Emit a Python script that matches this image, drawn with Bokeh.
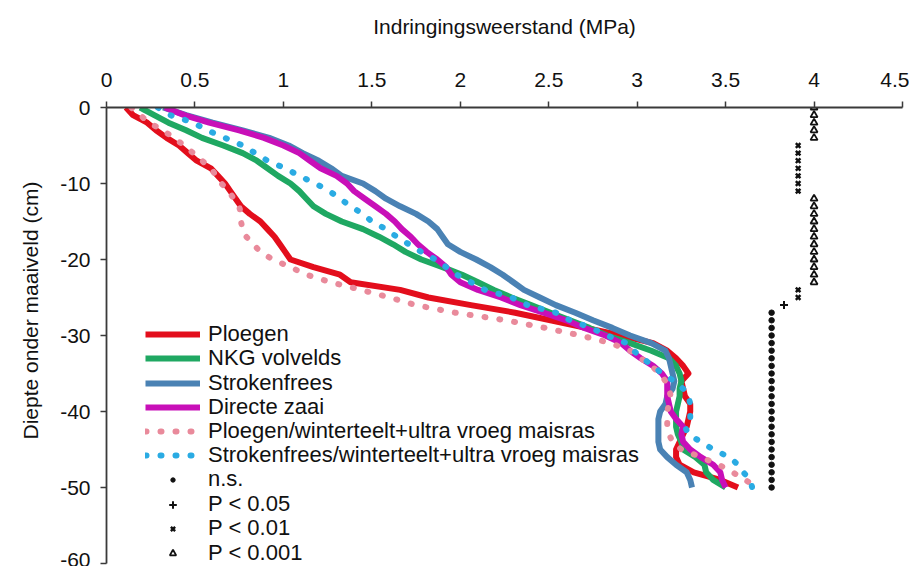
from bokeh.plotting import figure
from bokeh.models import (Range1d, FixedTicker, Legend, LegendItem, Title, ColumnDataSource)
from bokeh.embed import file_html
from bokeh.resources import INLINE

# ---------------- data ----------------
depth = [0, -1, -2, -3, -4, -5, -6, -7, -8, -9, -10, -11, -12, -13, -14, -15, -16, -17, -18, -19,
         -20, -21, -22, -23, -24, -25, -26, -27, -28, -29, -30, -31, -32, -33, -34, -35, -36, -37,
         -38, -39, -40, -41, -42, -43, -44, -45, -46, -47, -48, -49, -50]

ploegen = [0.11, 0.15, 0.23, 0.28, 0.34, 0.41, 0.46, 0.51, 0.59, 0.63, 0.67, 0.70, 0.73, 0.76,
           0.81, 0.87, 0.91, 0.95, 0.98, 1.01, 1.04, 1.17, 1.32, 1.38, 1.66, 1.82, 2.06, 2.31,
           2.51, 2.71, 2.91, 3.09, 3.17, 3.22, 3.26, 3.29, 3.25, 3.26, 3.27, 3.30, 3.30, 3.29,
           3.28, 3.26, 3.24, 3.22, 3.22, 3.24, 3.32, 3.47, 3.57]

nkg_volvelds = [0.19, 0.27, 0.35, 0.45, 0.54, 0.66, 0.77, 0.85, 0.91, 0.97, 1.04, 1.09, 1.13,
                1.17, 1.24, 1.33, 1.45, 1.54, 1.62, 1.69, 1.78, 1.90, 2.01, 2.10, 2.19, 2.29,
                2.40, 2.51, 2.62, 2.73, 2.83, 2.96, 3.08, 3.18, 3.22, 3.24, 3.25, 3.24, 3.24,
                3.23, 3.22, 3.22, 3.22, 3.23, 3.25, 3.26, 3.33, 3.38, 3.39, 3.43, 3.50]

strokenfrees = [0.32, 0.45, 0.60, 0.77, 0.92, 1.03, 1.11, 1.20, 1.27, 1.33, 1.45, 1.52, 1.58,
                1.66, 1.75, 1.82, 1.87, 1.90, 1.93, 2.00, 2.09, 2.17, 2.24, 2.30, 2.36, 2.45,
                2.54, 2.65, 2.75, 2.86, 2.96, 3.08, 3.16, 3.18, 3.19, 3.20, 3.21, 3.20, 3.17,
                3.16, 3.13, 3.12, 3.12, 3.12, 3.12, 3.13, 3.17, 3.22, 3.28, 3.30, 3.31]

directe_zaai = [0.33, 0.44, 0.58, 0.75, 0.89, 1.00, 1.09, 1.15, 1.21, 1.30, 1.36, 1.40, 1.46,
                1.52, 1.58, 1.63, 1.67, 1.72, 1.76, 1.81, 1.87, 1.92, 1.95, 2.00, 2.10, 2.23,
                2.34, 2.47, 2.60, 2.70, 2.82, 2.91, 2.96, 3.02, 3.09, 3.14, 3.17, 3.17, 3.17,
                3.18, 3.19, 3.22, 3.26, 3.25, 3.26, 3.30, 3.36, 3.43, 3.47, 3.48, 3.50]

ploegen_wt = [0.14, 0.19, 0.24, 0.32, 0.38, 0.44, 0.49, 0.54, 0.59, 0.62, 0.65, 0.69, 0.72,
              0.75, 0.76, 0.76, 0.77, 0.79, 0.83, 0.87, 0.94, 1.04, 1.13, 1.27, 1.44, 1.60,
              1.75, 1.97, 2.26, 2.48, 2.68, 2.85, 2.96, 3.02, 3.08, 3.13, 3.16, 3.18, 3.19,
              3.18, 3.17, 3.17, 3.17, 3.18, 3.20, 3.25, 3.36, 3.46, 3.54, 3.61, 3.68]

strokenfrees_wt = [0.29, 0.36, 0.49, 0.57, 0.67, 0.77, 0.84, 0.91, 1.01, 1.09, 1.18, 1.26,
                   1.32, 1.38, 1.45, 1.50, 1.58, 1.64, 1.71, 1.78, 1.86, 1.92, 1.98, 2.06, 2.14,
                   2.29, 2.38, 2.54, 2.62, 2.74, 2.83, 2.94, 2.98, 3.03, 3.09, 3.14, 3.21, 3.26,
                   3.29, 3.30, 3.30, 3.30, 3.27, 3.29, 3.36, 3.43, 3.52, 3.57, 3.60, 3.64, 3.65]

# significance markers (depth, plotted at a fixed x column)
sig_ns_depth = [-27, -28, -29, -30, -31, -32, -33, -34, -35, -36, -37, -38, -39, -40, -41, -42,
                -43, -44, -45, -46, -47, -48, -49, -50]
sig_ns_x = 3.76
sig_p05_depth = [-26]
sig_p05_x = 3.83
sig_p01_depth = [-5, -6, -7, -8, -9, -10, -11, -24, -25]
sig_p01_x = 3.91
sig_p001_depth = [0, -1, -2, -3, -4, -12, -13, -14, -15, -16, -17, -18, -19, -20, -21, -22, -23]
sig_p001_x = 4.0

x_ticks = [0, 0.5, 1, 1.5, 2, 2.5, 3, 3.5, 4, 4.5]
x_tick_labels = ["0", "0.5", "1", "1.5", "2", "2.5", "3", "3.5", "4", "4.5"]
y_ticks = [0, -10, -20, -30, -40, -50, -60]
y_tick_labels = ["0", "-10", "-20", "-30", "-40", "-50", "-60"]

series_names = ["Ploegen", "NKG volvelds", "Strokenfrees", "Directe zaai",
                "Ploegen/winterteelt+ultra vroeg maisras",
                "Strokenfrees/winterteelt+ultra vroeg maisras"]
series_values = [ploegen, nkg_volvelds, strokenfrees, directe_zaai, ploegen_wt, strokenfrees_wt]
series_colors = ["#E30E1C", "#1FA862", "#4A82B4", "#C80FB8", "#E98A9B", "#2AABE3"]
series_dotted = [False, False, False, False, True, True]

FONT = "Liberation Sans"
AXC = "#3a3a3a"
TXT = "#111111"

p = figure(width=909, height=566, output_backend="svg", toolbar_location=None,
           x_range=Range1d(0, 4.5), y_range=Range1d(-60, 0),
           x_axis_location="above", min_border_left=106, min_border_top=107,
           min_border_right=7, min_border_bottom=3)
p.outline_line_color = None
p.grid.visible = False
p.background_fill_color = "white"
p.border_fill_color = "white"

xa = p.xaxis[0]
xa.ticker = FixedTicker(ticks=x_ticks)
xa.major_label_overrides = {t: l for t, l in zip(x_ticks, x_tick_labels)}
xa.axis_label = "Indringingsweerstand (MPa)"
xa.axis_label_text_font = FONT
xa.axis_label_text_font_size = "21px"
xa.axis_label_text_font_style = "normal"
xa.axis_label_text_color = TXT
xa.axis_label_standoff = 32

ya = p.yaxis[0]
ya.ticker = FixedTicker(ticks=y_ticks)
ya.major_label_overrides = {t: l for t, l in zip(y_ticks, y_tick_labels)}

for ax in (xa, ya):
    ax.minor_tick_line_color = None
    ax.major_tick_in = 0
    ax.major_tick_out = 6
    ax.major_tick_line_color = AXC
    ax.major_tick_line_width = 1.5
    ax.axis_line_color = AXC
    ax.axis_line_width = 1.8
    ax.major_label_text_font = FONT
    ax.major_label_text_font_size = "21px"
    ax.major_label_text_color = TXT
xa.major_label_standoff = 15
ya.major_label_standoff = 10

# y axis title (sits higher than the frame centre in the reference)
p.add_layout(Title(text="Diepte onder maaiveld (cm)", align="left", offset=124,
                   text_font=FONT, text_font_size="21px", text_font_style="normal",
                   text_color=TXT, standoff=31), "left")

renderers = []
for name, vals, col, dotted in zip(series_names, series_values, series_colors, series_dotted):
    src = ColumnDataSource(dict(x=vals, y=depth))
    if dotted:
        r = p.line("x", "y", source=src, line_color=col, line_width=6, line_dash="1 14",
                   line_cap="round", line_join="round")
    else:
        r = p.line("x", "y", source=src, line_color=col, line_width=6, line_join="round")
    renderers.append(r)

r_ns = p.scatter([sig_ns_x] * len(sig_ns_depth), sig_ns_depth, marker="circle", size=5.5,
                 fill_color=TXT, line_color=TXT)
r_05 = p.scatter([sig_p05_x] * len(sig_p05_depth), sig_p05_depth, marker="cross", size=8,
                 line_color=TXT, line_width=2)
r_01 = p.scatter([sig_p01_x] * len(sig_p01_depth), sig_p01_depth, marker="x", size=6.5,
                 line_color=TXT, line_width=2.4)
r_001 = p.scatter([sig_p001_x] * len(sig_p001_depth), sig_p001_depth, marker="triangle",
                  size=7, fill_color="white", line_color=TXT, line_width=1.8)

common = dict(padding=0, margin=0, spacing=0, glyph_width=55, label_height=24,
              label_standoff=8, label_text_font=FONT, label_text_font_size="22px",
              label_text_color=TXT, border_line_color=None, background_fill_alpha=0)

# one single-row legend per entry: exact row pitch, and each marker keeps its own small size
legend_labels = series_names + ["n.s.", "P < 0.05", "P < 0.01", "P < 0.001"]
legend_rends = renderers + [r_ns, r_05, r_01, r_001]
legend_glyph_h = [24, 24, 24, 24, 24, 24, 11, 19, 15, 16]
legend_yoff = [216, 192, 167, 143, 119, 95, 71, 46, 22, -3]
for label, rend, gh, yoff in zip(legend_labels, legend_rends, legend_glyph_h, legend_yoff):
    p.add_layout(Legend(items=[LegendItem(label=label, renderers=[rend])],
                        location=(39, yoff), glyph_height=gh, **common), "center")

open("out.html", "w").write(file_html(p, INLINE))
